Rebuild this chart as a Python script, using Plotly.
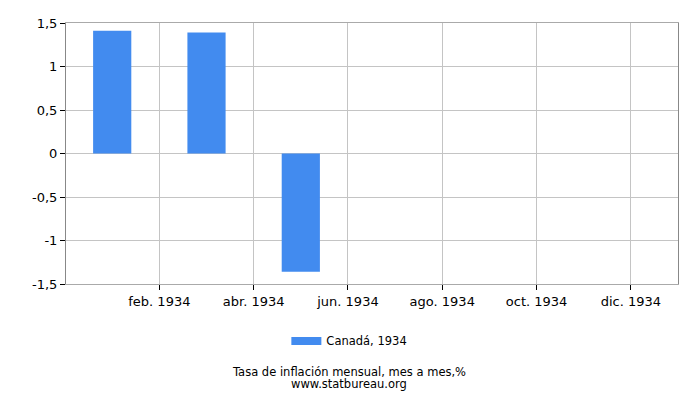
import plotly.graph_objects as go

# ─── Datos ────────────────────────────────────────────────────────────────────

MONTH_IDX = [0, 2, 4]                    # ene., mar., may. 1934
INFLATION = [1.41, 1.39, -1.36]          # % mes a mes
SERIES_NAME = "Canadá, 1934"

XTICK_VALS = [1, 3, 5, 7, 9, 11]
XTICK_TEXT = ["feb. 1934", "abr. 1934", "jun. 1934", "ago. 1934", "oct. 1934", "dic. 1934"]

YTICK_VALS = [-1.5, -1, -0.5, 0, 0.5, 1, 1.5]
YTICK_TEXT = ["-1,5", "-1", "-0,5", "0", "0,5", "1", "1,5"]

BAR_COLOR = "#428BEF"
GRID = "#c4c4c4"

fig = go.Figure()
fig.add_trace(go.Bar(
    x=MONTH_IDX,
    y=INFLATION,
    name=SERIES_NAME,
    marker=dict(color=BAR_COLOR, line=dict(width=0)),
    width=0.81,
    showlegend=False,
    hovertemplate="%{y:.2f} %<extra></extra>",
))
# entrada de leyenda como rectángulo ancho
fig.add_trace(go.Scatter(
    x=[None], y=[None],
    mode="lines",
    name=SERIES_NAME,
    line=dict(color=BAR_COLOR, width=8),
    showlegend=True,
))

fig.update_layout(
    width=684, height=384,
    margin=dict(l=58, r=14, t=8, b=108),
    plot_bgcolor="white",
    paper_bgcolor="white",
    font=dict(family="DejaVu Sans", size=13, color="#000"),
    showlegend=True,
    legend=dict(
        orientation="h", x=0.463, xanchor="center", y=-0.218, yanchor="middle",
        font=dict(size=11.5), itemwidth=30,
    ),
    annotations=[
        dict(text="Tasa de inflación mensual, mes a mes,%",
             xref="paper", yref="paper", x=0.463, y=-0.338, xanchor="center", yanchor="middle",
             showarrow=False, font=dict(size=11.5)),
        dict(text="www.statbureau.org",
             xref="paper", yref="paper", x=0.463, y=-0.384, xanchor="center", yanchor="middle",
             showarrow=False, font=dict(size=11.5)),
    ],
)

fig.update_xaxes(
    range=[-0.98, 12],
    tickvals=XTICK_VALS, ticktext=XTICK_TEXT,
    showgrid=True, gridcolor=GRID, gridwidth=1,
    ticks="outside", ticklen=5, tickcolor="#000",
    showline=True, linecolor="#aaa", mirror=True,
    zeroline=False,
)
fig.update_yaxes(
    range=[-1.5, 1.5],
    tickvals=YTICK_VALS, ticktext=YTICK_TEXT,
    showgrid=True, gridcolor=GRID, gridwidth=1,
    ticks="outside", ticklen=5, tickcolor="#000",
    showline=True, linecolor="#888", mirror=True,
    zeroline=False,
)

fig.write_html("out.html")
